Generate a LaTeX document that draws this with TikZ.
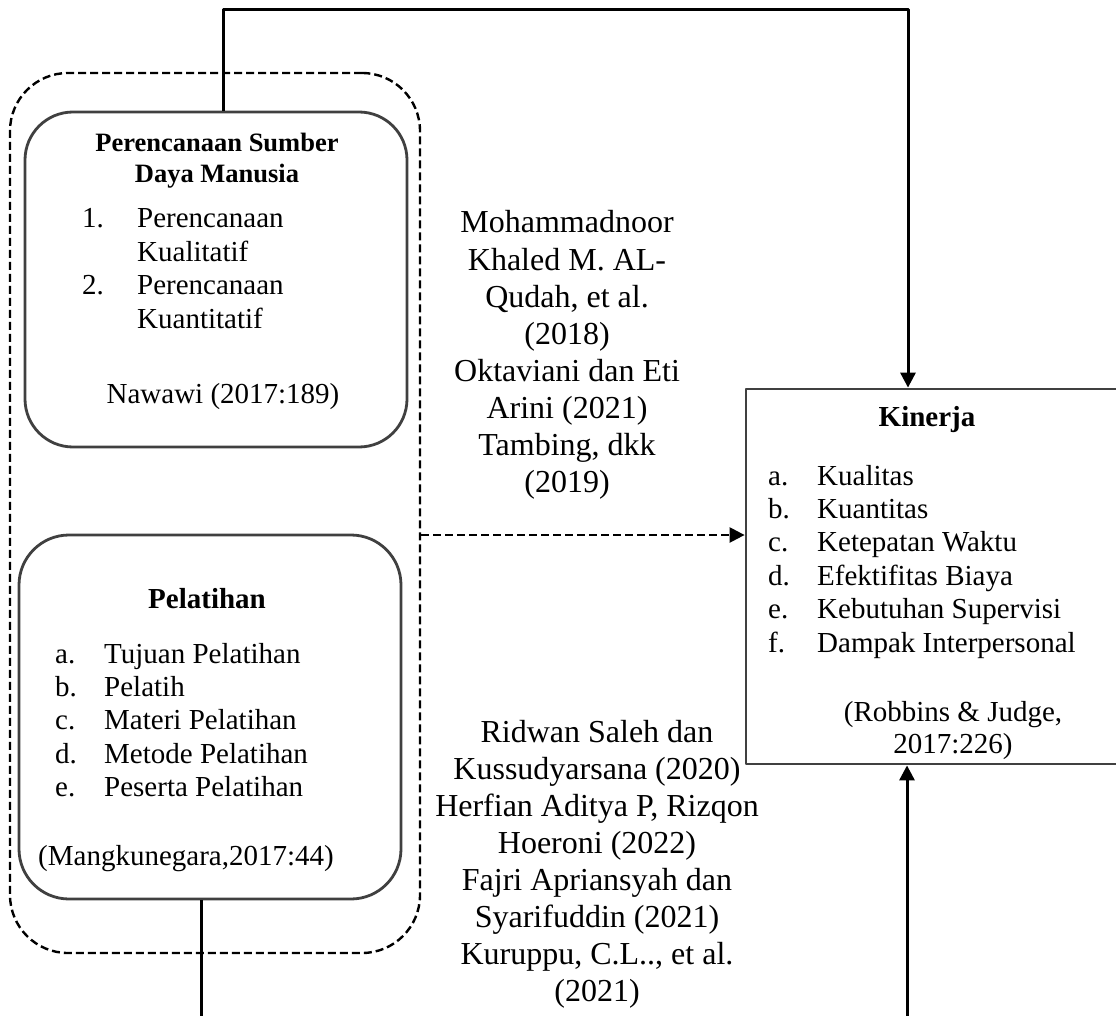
\documentclass[tikz,border=0pt]{standalone}
\usepackage{fontspec}
\setmainfont{Liberation Serif}
\usetikzlibrary{arrows.meta}

\begin{document}
\begin{tikzpicture}[x=1pt,y=-1pt,>={Triangle[length=15pt,width=15pt]},line join=round,
	kotak/.style={draw=black!75,line width=2.8pt,inner sep=0pt},
	grup/.style={draw,dash pattern=on 8pt off 4pt,line width=2.4pt,rounded corners=58pt,inner sep=0pt},
	garis/.style={line width=3pt},
	putus/.style={line width=2.4pt,dash pattern=on 8pt off 4pt},
	isi/.style={font=\fontsize{29}{33.4}\selectfont,inner sep=0pt},
	judul/.style={font=\fontsize{29}{33.4}\selectfont\bfseries,inner sep=0pt},
	rujukan/.style={font=\fontsize{32}{37.1}\selectfont,inner sep=0pt}]
		\useasboundingbox (0,0) rectangle (1116,1016);
		\clip (0,0) rectangle (1116,1016);
		% kotak-kotak
		\node[grup,minimum width=410pt,minimum height=880pt] (grup) at (215,513) {};
		\node[kotak,rounded corners=48pt,minimum width=382pt,minimum height=335pt] (rencana) at (216,279.5) {};
		\node[kotak,rounded corners=50pt,minimum width=382pt,minimum height=364pt] (latih) at (210,717) {};
		\node[kotak,minimum width=384pt,minimum height=375pt] (kinerja) at (938,576.5) {};
		% perencanaan SDM
		\node[judul,font=\fontsize{26.5}{31}\selectfont\bfseries,anchor=base] (rencanaJ1) at (217,152) {Perencanaan Sumber};
		\node[judul,font=\fontsize{26.5}{31}\selectfont\bfseries,anchor=base] (rencanaJ2) at (217,183) {Daya Manusia};
		\node[isi,anchor=base west] (rencanaN1) at (82,228) {1.};
		\node[isi,anchor=base west] (rencanaN2) at (82,294.8) {2.};
		\foreach \teks [count=\i from 0] in {Perencanaan,Kualitatif,Perencanaan,Kuantitatif}
		\node[isi,anchor=base west] (rencanaT\i) at (137,{228+33.4*\i}) {\teks};
		\node[isi,anchor=base] (rencanaR) at (223,403) {Nawawi (2017:189)};
		% pelatihan
		\node[judul,anchor=base] (latihJ) at (207,608) {Pelatihan};
		\foreach \hrf/\teks [count=\i from 0] in {a./Tujuan Pelatihan,b./Pelatih,c./Materi Pelatihan,d./Metode Pelatihan,e./Peserta Pelatihan}{
			\node[isi,anchor=base west] (latihH\i) at (55,{663+33.4*\i}) {\hrf};
			\node[isi,anchor=base west] (latihT\i) at (104,{663+33.4*\i}) {\teks};
		}
		\node[isi,anchor=base west] (latihR) at (38,865) {(Mangkunegara,2017:44)};
		% kinerja
		\node[judul,anchor=base] (kinerjaJ) at (927,426) {Kinerja};
		\foreach \hrf/\teks [count=\i from 0] in {a./Kualitas,b./Kuantitas,c./Ketepatan Waktu,d./Efektifitas Biaya,e./Kebutuhan Supervisi,f./Dampak Interpersonal}{
			\node[isi,anchor=base west] (kinerjaH\i) at (768,{485+33.4*\i}) {\hrf};
			\node[isi,anchor=base west] (kinerjaT\i) at (817,{485+33.4*\i}) {\teks};
		}
		\node[isi,anchor=base] (kinerjaR1) at (953,721) {(Robbins \& Judge,};
		\node[isi,anchor=base] (kinerjaR2) at (953,753) {2017:226)};
		% rujukan penelitian
		\foreach \teks [count=\i from 0] in {Mohammadnoor,Khaled M. AL-,{Qudah, et al.},(2018),Oktaviani dan Eti,Arini (2021),{Tambing, dkk},(2019)}
		\node[rujukan,anchor=base] (rujukA\i) at (567,{233+37.1*\i}) {\teks};
		\foreach \teks [count=\i from 0] in {Ridwan Saleh dan,Kussudyarsana (2020),{Herfian Aditya P, Rizqon},Hoeroni (2022),Fajri Apriansyah dan,Syarifuddin (2021),{Kuruppu, C.L.., et al.},(2021)}
		\node[rujukan,anchor=base] (rujukB\i) at (597,{742+37.1*\i}) {\teks};
		% panah
		\coordinate (belok) at (908,10);
		\coordinate (ujungA) at (201,1030);
		\coordinate (ujungB) at (907,1030);
		\draw[garis,->] ([xshift=7pt]rencana.north) |- (belok) -- ([xshift=-30pt]kinerja.north);
		\draw[garis] ([xshift=-9pt]latih.south) -- (ujungA);
		\draw[garis,->] (ujungB) -- ([xshift=-31pt]kinerja.south);
		\draw[putus,->] ([yshift=-22pt]grup.east) -- ([yshift=-22pt]grup.east -| kinerja.west);
		\end{tikzpicture}
\end{document}
